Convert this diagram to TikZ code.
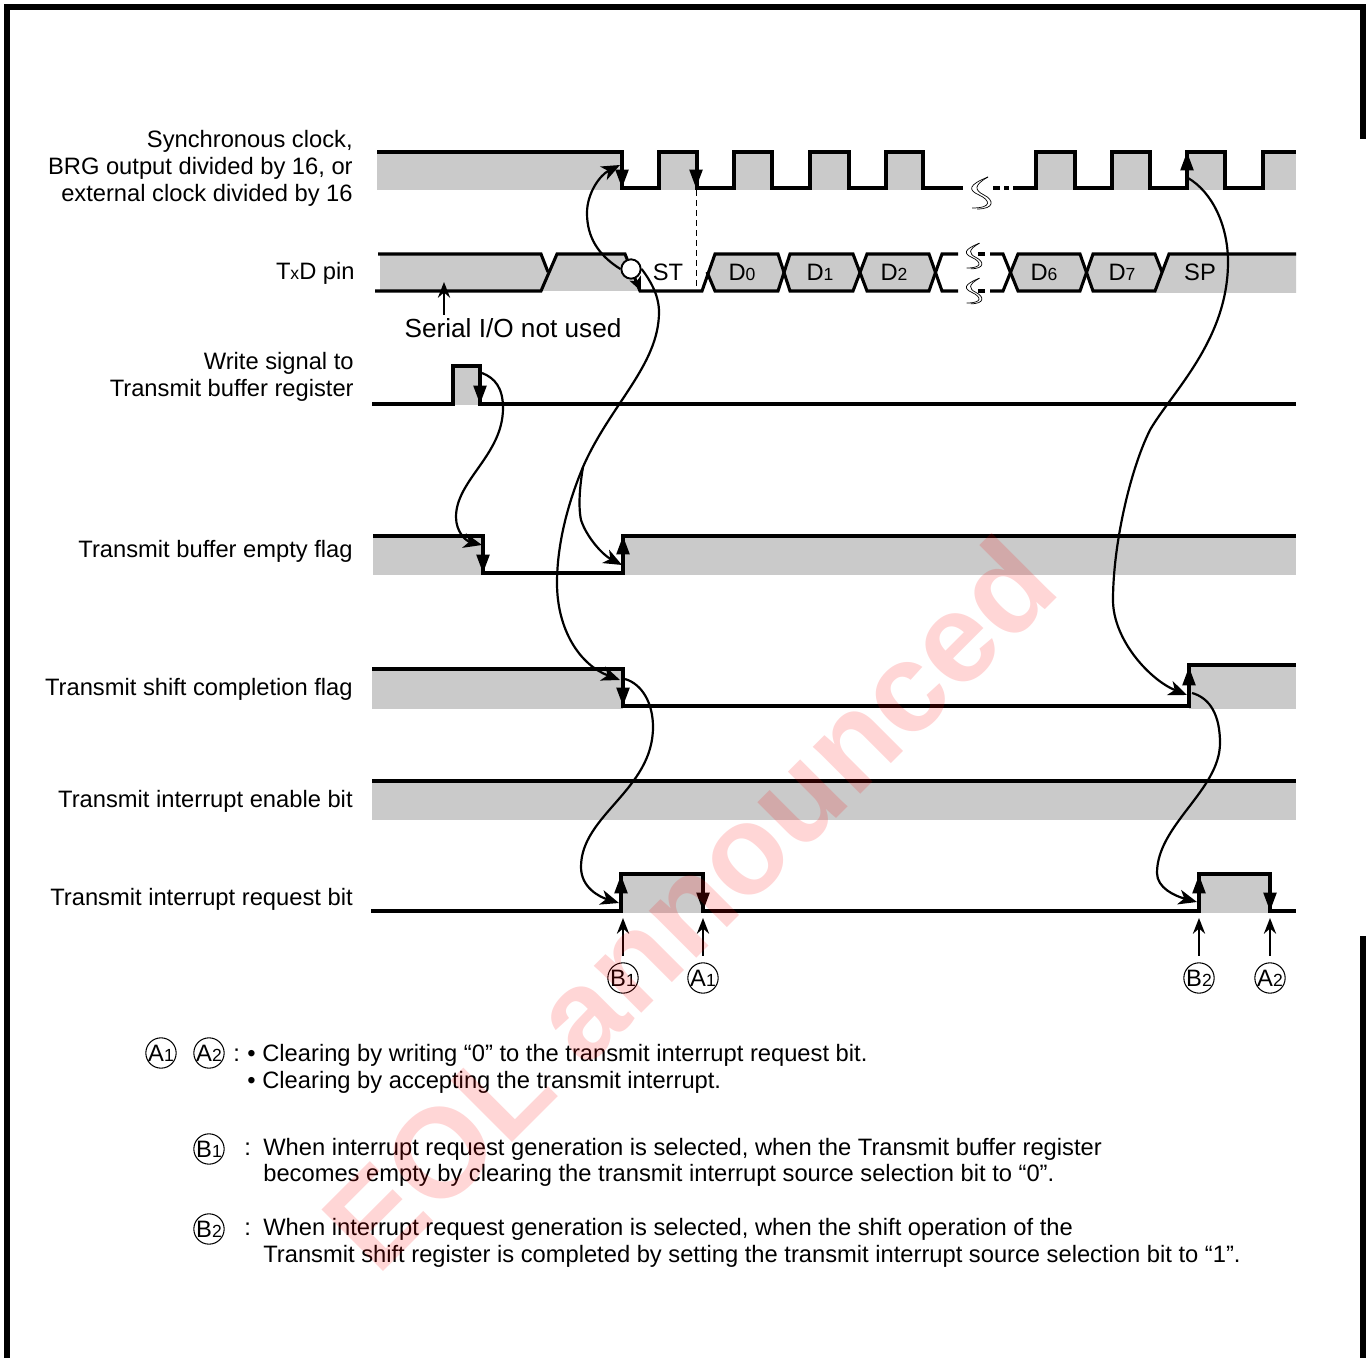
\documentclass[tikz,border=0pt]{standalone}
\usepackage{fontspec}
\setmainfont{Liberation Sans}
\usepackage{xcolor}
\usetikzlibrary{arrows.meta}
\definecolor{siggray}{RGB}{202,202,202}
\newcommand{\sm}[1]{{\fontsize{10}{10}\selectfont #1}}
\tikzset{
  every picture/.style={x=0.02cm,y=-0.02cm,font=\fontsize{13.5}{15.4}\selectfont},
  sigline/.style={line width=1.75pt},
  siglbl/.style={anchor=east,align=right,inner sep=0pt},
  lgdtxt/.style={anchor=base west,inner sep=0pt},
  markcirc/.style={circle,draw,line width=0.6pt,minimum size=17pt,inner sep=0pt},
  edgehead/.style={line width=1.4pt,-{Triangle[length=10.5pt,width=7.4pt]}},
  flow/.style={line width=1.25pt,-{Stealth[length=10.5pt,width=8.5pt,inset=3pt]}},
  markarrow/.style={line width=1pt,shorten <=4pt,-{Stealth[length=9pt,width=7pt,inset=3pt]}},
  wiggle/.style={line width=0.4pt},
}
\newcommand{\wavemark}[3]{%
  \draw[wiggle,shift={(#1,#2)},scale=#3] (8,-16) .. controls (-12,-8) and (-12,-3) .. (-1,2) .. controls (10,7) and (13,15) .. (-8,15);
  \draw[wiggle,shift={(#1,#2)},scale=#3] (8,-16) .. controls (-6,-8) and (-6,-3) .. (4,2) .. controls (14,7) and (15,16) .. (-3,16);
}
\begin{document}
\begin{tikzpicture}
\useasboundingbox (0,0) rectangle (1370,1358);
% frame
\draw[line width=3.3pt] (7,1358)--(7,7)--(1363,7)--(1363,139);
\draw[line width=3.3pt] (1363,936)--(1363,1358);
% gray levels
\fill[siggray] (377,152) rectangle (622,190);
\foreach \r/\f in {659/697,734/772,810/849,886/923,1036/1075,1112/1150,1187/1225,1263/1296}
  \fill[siggray] (\r,152) rectangle (\f,190);
\fill[siggray] (380,254)--(541,254)--(548,272)--(541,291)--(380,291)--cycle;
\fill[siggray] (557,254)--(625,254)--(640,291)--(541,291)--(548,272)--cycle;
\foreach \a/\b/\c/\d in {707/715/778/785,784/790/853/860,860/867/929/935,1010/1018/1080/1087,1087/1093/1155/1162}
  \fill[siggray] (\a,272)--(\b,254)--(\c,254)--(\d,272)--(\c,291)--(\b,291)--cycle;
\fill[siggray] (1169,254)--(1296,254)--(1296,293)--(1155,293)--(1162,272)--cycle;
\fill[siggray] (453,366) rectangle (480,405);
\fill[siggray] (373,536) rectangle (483,575);
\fill[siggray] (623,536) rectangle (1296,575);
\fill[siggray] (372,669) rectangle (623,709);
\fill[siggray] (1189,665) rectangle (1296,709);
\fill[siggray] (372,781) rectangle (1296,820);
\fill[siggray] (621,874) rectangle (703,913);
\fill[siggray] (1199,874) rectangle (1270,913);
% clock
\draw[sigline] (377,152)--(622,152)--(622,188)--(659,188)--(659,152)--(697,152)--(697,188)--(734,188)--(734,152)--(772,152)--(772,188)--(810,188)--(810,152)--(849,152)--(849,188)--(886,188)--(886,152)--(923,152)--(923,188)--(963,188);
\draw[sigline] (993,188)--(1000,188) (1004,188)--(1009,188);
\draw[sigline] (1013,188)--(1036,188)--(1036,152)--(1075,152)--(1075,188)--(1112,188)--(1112,152)--(1150,152)--(1150,188)--(1187,188)--(1187,152)--(1225,152)--(1225,188)--(1263,188)--(1263,152)--(1296,152);
\draw[line width=0.5pt,dash pattern=on 3.4pt off 2.3pt] (696,190)--(696,291);
\wavemark{980}{193}{1}
% TxD
\draw[sigline] (378,254)--(541,254)--(548,272);
\draw[sigline] (375,291)--(541,291)--(557,254)--(625,254)--(640,291)--(702,291)--(715,254)--(778,254)--(790,291)--(853,291)--(867,254)--(929,254)--(942,291)--(958,291);
\draw[sigline] (707,272)--(715,291)--(778,291)--(790,254)--(853,254)--(867,291)--(929,291)--(942,254)--(958,254);
\draw[sigline] (978,254)--(985,254) (978,291)--(985,291);
\draw[sigline] (990,254)--(1003,254)--(1018,291)--(1080,291)--(1093,254)--(1155,254)--(1162,272);
\draw[sigline] (990,291)--(1003,291)--(1018,254)--(1080,254)--(1093,291)--(1155,291)--(1169,254)--(1296,254);
\wavemark{973}{256}{0.8}
\wavemark{973}{291}{0.8}
% other signals
\draw[sigline] (372,404)--(453,404)--(453,366)--(480,366)--(480,404)--(1296,404);
\draw[sigline] (373,536)--(483,536)--(483,573)--(623,573)--(623,536)--(1296,536);
\draw[sigline] (372,669)--(623,669)--(623,706)--(1189,706)--(1189,665)--(1296,665);
\draw[sigline] (372,781)--(1296,781);
\draw[sigline] (371,911)--(621,911)--(621,874)--(703,874)--(703,911)--(1199,911)--(1199,874)--(1270,874)--(1270,911)--(1296,911);
% edge arrows
\foreach \ex/\ey/\et in {622/165/188,696/165/188,480/380/404,483/550/573,623/688/706,703/890/911,1270/890/911}
  \draw[edgehead] (\ex,\ey)--(\ex,\et);
\foreach \ex/\ey/\et in {1187/178/152,623/560/536,1189/690/667,621/897/875,1199/897/875}
  \draw[edgehead] (\ex,\ey)--(\ex,\et);
% labels
\node[siglbl] (lblclk) at (353,168) {Synchronous clock,\\BRG output divided by 16, or\\external clock divided by 16};
\node[siglbl,anchor=base east] (lbltxd) at (355,280) {T\sm{x}D pin};
\node[siglbl] (lblwr) at (354,377) {Write signal to\\Transmit buffer register};
\node[siglbl,anchor=base east] (lblemp) at (353,558) {Transmit buffer empty flag};
\node[siglbl,anchor=base east] (lblcmp) at (353,695) {Transmit shift completion flag};
\node[siglbl,anchor=base east] (lblena) at (353,807) {Transmit interrupt enable bit};
\node[siglbl,anchor=base east] (lblreq) at (353,905) {Transmit interrupt request bit};
\node (bitst) at (668,272) {ST};
\node (bit0) at (742,272) {D\sm{0}};
\node (bit1) at (820,272) {D\sm{1}};
\node (bit2) at (894,272) {D\sm{2}};
\node (bit6) at (1044,272) {D\sm{6}};
\node (bit7) at (1122,272) {D\sm{7}};
\node (bitsp) at (1200,272) {SP};
\node[font=\fontsize{14.9}{18}\selectfont,inner sep=0pt] (notused) at (513,328) {Serial I/O not used};
\coordinate (usedtip) at (444,282);
\draw[markarrow,shorten <=2pt] (notused.north -| usedtip)--(usedtip);
% start bit tap
\node[circle,draw,fill=white,line width=1.1pt,minimum size=11pt,inner sep=0pt] (tap) at (631,269) {};
\coordinate (lowtip) at (641,291);
\draw[line width=1.1pt,-{Stealth[length=8pt,width=7pt,inset=2pt]}] (tap)--(lowtip);
% flow curves
\coordinate (clktip) at (620,165);
\coordinate (empA) at (482,373);
\coordinate (emptip) at (482,545);
\coordinate (risetip) at (622,565);
\coordinate (cmptip) at (620,680);
\coordinate (split) at (583,467);
\coordinate (cmpB) at (625,679);
\coordinate (reqtip) at (619,903);
\coordinate (spclk) at (1188,178);
\coordinate (sptip) at (1187,695);
\coordinate (spB) at (1192,693);
\coordinate (req2tip) at (1197,902);
\draw[flow] (tap.west) .. controls (598,255) and (587,237) .. (587,213) .. controls (587,193) and (600,175) .. (clktip);
\draw[flow] (tap.east) .. controls (650,280) and (659,295) .. (659,312) .. controls (659,365) and (610,405) .. (583,467) .. controls (565,510) and (557,550) .. (557,583) .. controls (557,630) and (580,665) .. (cmptip);
\draw[flow] (split) .. controls (580,485) and (578,505) .. (581,520) .. controls (587,538) and (603,555) .. (risetip);
\draw[flow] (empA) .. controls (495,378) and (503,388) .. (503,408) .. controls (503,455) and (456,480) .. (456,517) .. controls (456,532) and (466,541) .. (emptip);
\draw[flow] (cmpB) .. controls (642,684) and (653,703) .. (653,727) .. controls (653,790) and (581,815) .. (581,867) .. controls (581,888) and (600,897) .. (reqtip);
\draw[flow] (spclk) .. controls (1212,192) and (1228,225) .. (1228,262) .. controls (1228,340) and (1172,392) .. (1150,430) .. controls (1130,470) and (1113,545) .. (1113,600) .. controls (1113,640) and (1150,680) .. (sptip);
\draw[flow] (spB) .. controls (1210,698) and (1220,715) .. (1220,743) .. controls (1220,790) and (1157,825) .. (1157,873) .. controls (1157,888) and (1175,896) .. (req2tip);
% A and B marks
\node[markcirc] (mkb1) at (623,978) {B\sm{1}};
\node[markcirc] (mka1) at (703,978) {A\sm{1}};
\node[markcirc] (mkb2) at (1199,978) {B\sm{2}};
\node[markcirc] (mka2) at (1270,978) {A\sm{2}};
\coordinate (tipb1) at (623,918);
\coordinate (tipa1) at (703,918);
\coordinate (tipb2) at (1199,918);
\coordinate (tipa2) at (1270,918);
\foreach \mk/\tp in {mkb1/tipb1,mka1/tipa1,mkb2/tipb2,mka2/tipa2}
  \draw[markarrow] (\mk)+(0,-15)--(\tp);
% legend
\node[markcirc] (lgda1) at (161,1053) {A\sm{1}};
\node[markcirc] (lgda2) at (209,1053) {A\sm{2}};
\node[markcirc] (lgdb1) at (209,1149) {B\sm{1}};
\node[markcirc] (lgdb2) at (209,1229) {B\sm{2}};
\node[lgdtxt] (cola) at (233,1061) {:};
\node[lgdtxt] (colb1) at (244,1155) {:};
\node[lgdtxt] (colb2) at (244,1235) {:};
\node[lgdtxt] (blt1) at (247,1061) {•};
\node[lgdtxt] (blt2) at (247,1088) {•};
\node[lgdtxt] (txta1) at (262,1061) {Clearing by writing “0” to the transmit interrupt request bit.};
\node[lgdtxt] (txta2) at (262,1088) {Clearing by accepting the transmit interrupt.};
\node[lgdtxt] (txtb1) at (263,1155) {When interrupt request generation is selected, when the Transmit buffer register};
\node[lgdtxt] (txtb2) at (263,1181) {becomes empty by clearing the transmit interrupt source selection bit to “0”.};
\node[lgdtxt] (txtc1) at (263,1235) {When interrupt request generation is selected, when the shift operation of the};
\node[lgdtxt] (txtc2) at (263,1262) {Transmit shift register is completed by setting the transmit interrupt source selection bit to “1”.};
% watermark
\node[anchor=base west,inner sep=0pt,rotate=45,text=red,text opacity=0.16,font=\fontsize{72}{72}\selectfont\bfseries] (eol) at (377,1278) {EOL announced};
\end{tikzpicture}
\end{document}
